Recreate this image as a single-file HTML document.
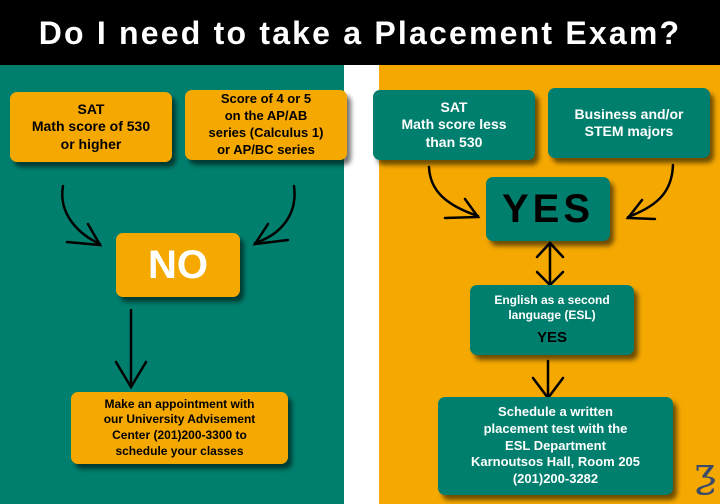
<!DOCTYPE html>
<html><head><meta charset="utf-8"><style>
*{margin:0;padding:0;box-sizing:border-box}
body{width:720px;height:504px;position:relative;overflow:hidden;background:#fff;font-family:"Liberation Sans",sans-serif;font-weight:bold}
.hdr{position:absolute;left:0;top:0;width:720px;height:65px;background:#000;color:#fff;font-size:32px;text-align:center;line-height:66px;letter-spacing:2.2px}
.g{position:absolute;left:0;top:65px;width:344px;height:439px;background:#007f6e}
.o{position:absolute;left:379px;top:65px;width:341px;height:439px;background:#f5a800}
.b{position:absolute;border-radius:7px;display:flex;align-items:center;justify-content:center;text-align:center;box-shadow:4px 5px 5px rgba(0,0,0,.55);line-height:1.25}
.ob{background:#f5a800;color:#000}
.gb{background:#007f6e;color:#fff}
svg{position:absolute;left:0;top:0}
</style></head><body>
<div class="hdr">Do I need to take a Placement Exam?</div>
<div class="g"></div><div class="o"></div>
<svg width="720" height="504" fill="none" stroke="#000" stroke-width="2.5" stroke-linecap="round">
<path d="M63 186 C58 215 80 235 100 244"/><path d="M67 242 L100 245 L88 224"/>
<path d="M294 186 C298 215 280 235 255 243"/><path d="M288 240 L255 244 L268 224"/>
<path d="M131 310 L131 387"/><path d="M116 362 L131 387 L146 362"/>
<path d="M429 167 C430 190 445 205 478 216"/><path d="M445 218 L478 217 L465 199"/>
<path d="M673 165 C672 190 660 205 628 217"/><path d="M655 219 L628 218 L642 200"/>
<path d="M550 243 L550 285"/><path d="M537 257 L550 243 L563 257"/><path d="M537 272 L550 285 L563 272"/>
<path d="M548 361 L548 398"/><path d="M533 378 L548 398 L563 378"/>
</svg>
<div class="b ob" style="left:10px;top:92px;width:162px;height:70px;font-size:14px">SAT<br>Math score of 530<br>or higher</div>
<div class="b ob" style="left:185px;top:90px;width:162px;height:70px;font-size:13px;line-height:1.3">Score of 4 or 5<br>on the AP/AB<br>series (Calculus 1)<br>or AP/BC series</div>
<div class="b ob" style="left:116px;top:233px;width:124px;height:64px;font-size:40px;color:#fff">NO</div>
<div class="b ob" style="left:71px;top:392px;width:217px;height:72px;font-size:12px;line-height:1.3">Make an appointment with<br>our University Advisement<br>Center (201)200-3300 to<br>schedule your classes</div>
<div class="b gb" style="left:373px;top:90px;width:162px;height:70px;font-size:14px">SAT<br>Math score less<br>than 530</div>
<div class="b gb" style="left:548px;top:88px;width:162px;height:70px;font-size:14px">Business and/or<br>STEM majors</div>
<div class="b gb" style="left:486px;top:177px;width:124px;height:64px;font-size:40px;color:#000;letter-spacing:4px">YES</div>
<div class="b gb" style="left:470px;top:285px;width:164px;height:70px;font-size:12px;flex-direction:column">English as a second<br>language (ESL)<div style="color:#000;font-size:15px;margin-top:6px">YES</div></div>
<div class="b gb" style="left:438px;top:397px;width:235px;height:98px;font-size:13px;line-height:1.3">Schedule a written<br>placement test with the<br>ESL Department<br>Karnoutsos Hall, Room 205<br>(201)200-3282</div>
<div style="position:absolute;left:694px;top:450px;font-size:40px;color:#3a4a6a;font-weight:normal;font-family:'DejaVu Serif',serif">ƺ</div>
</body></html>
